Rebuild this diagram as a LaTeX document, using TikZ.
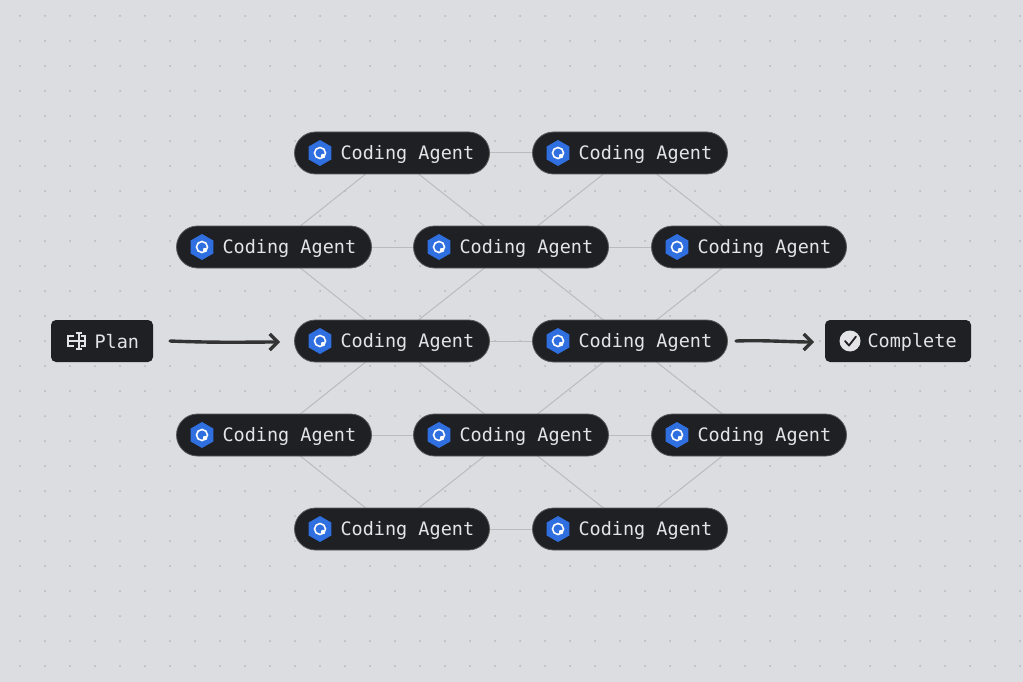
\documentclass[tikz,border=0pt]{standalone}
\usepackage{fontspec}
\setmonofont{DejaVu Sans Mono}
\usetikzlibrary{shapes.geometric,arrows.meta}
\definecolor{bgcolor}{HTML}{DCDDE1}
\definecolor{dotcolor}{HTML}{B4B6BC}
\definecolor{pillcolor}{HTML}{1F2023}
\definecolor{edgecolor}{HTML}{B9BBC0}
\definecolor{iconblue}{HTML}{2F6FE0}
\definecolor{textcolor}{HTML}{E4E4E6}
\tikzset{
  agent/.style={draw=gray!70!black,line width=0.8pt,fill=pillcolor,rounded corners=21pt,
    minimum width=195pt,minimum height=42pt,inner sep=0pt},
  box/.style={fill=pillcolor,rounded corners=5pt,minimum height=42pt,inner sep=0pt},
  lbl/.style={text=textcolor,font=\ttfamily\fontsize{18.5}{20}\selectfont,anchor=west},
  link/.style={draw=edgecolor,line width=1pt},
  sketch/.style={draw=black!80,line width=3.4pt,line cap=round,-{Straight Barb[length=8pt,width=16pt,line width=3.2pt]}}
}
\newcommand{\agent}[3]{%
  \node[agent] (#1) at (#2,#3) {};
  \node[regular polygon,regular polygon sides=6,shape border rotate=30,fill=iconblue,minimum size=26pt,inner sep=0pt] (#1i) at (#2-72,#3) {};
  \draw[white,line width=1.6pt] (#1i) circle (5.5pt);
  \fill[white] (#1i.center)++(3,3) circle (2.2pt);
  \node[lbl] at (#2-55,#3+1) {Coding Agent};
}
\begin{document}
\begin{tikzpicture}[x=1pt,y=-1pt]
\fill[bgcolor] (0,0) rectangle (1023,682);
\useasboundingbox (0,0) rectangle (1023,682);
% dot grid
\foreach \i in {0,...,40}
  \foreach \j in {0,...,26}
    \fill[dotcolor] (20+25*\i,16+25*\j) circle (1pt);
% lattice
\coordinate (a1) at (392,153); \coordinate (a2) at (630,153);
\coordinate (b1) at (274,247); \coordinate (b2) at (511,247); \coordinate (b3) at (749,247);
\coordinate (c1) at (392,341); \coordinate (c2) at (630,341);
\coordinate (d1) at (274,435); \coordinate (d2) at (511,435); \coordinate (d3) at (749,435);
\coordinate (e1) at (392,529); \coordinate (e2) at (630,529);
\foreach \p/\q in {a1/a2,b1/b2,b2/b3,c1/c2,d1/d2,d2/d3,e1/e2,
  a1/b1,a1/b2,a2/b2,a2/b3,b1/c1,b2/c1,b2/c2,b3/c2,
  c1/d1,c1/d2,c2/d2,c2/d3,d1/e1,d2/e1,d2/e2,d3/e2}
  \draw[link] (\p) -- (\q);
% agents
\agent{A1}{392}{153} \agent{A2}{630}{153}
\agent{B1}{274}{247} \agent{B2}{511}{247} \agent{B3}{749}{247}
\agent{C1}{392}{341} \agent{C2}{630}{341}
\agent{D1}{274}{435} \agent{D2}{511}{435} \agent{D3}{749}{435}
\agent{E1}{392}{529} \agent{E2}{630}{529}
% plan and complete
\node[box,minimum width=102pt] (plan) at (102,341) {};
\draw[textcolor,line width=1.3pt] (74,336) -- (68,336) -- (68,346) -- (74,346) (68,341) -- (86,341)
  (76,333) -- (82,333) (79,333) -- (79,349) (76,349) -- (82,349) (81,336) -- (85,336) -- (85,346) -- (81,346);
\node[lbl] at (91,342) {Plan};
\node[box,minimum width=146pt] (done) at (898,341) {};
\fill[textcolor] (850,341) circle (10.5pt);
\draw[pillcolor,line width=1.8pt,line cap=round,line join=round] (845,341) -- (849,345.5) -- (856,336.5);
\node[lbl] at (864,342) {Complete};
% arrows
\coordinate (p0) at (170,341); \coordinate (p1) at (280,342);
\coordinate (q0) at (736,341); \coordinate (q1) at (814,342);
\draw[sketch] (p0) .. controls (220,343) and (250,342) .. (p1);
\draw[sketch] (q0) .. controls (765,340) and (790,342) .. (q1);
\end{tikzpicture}
\end{document}
